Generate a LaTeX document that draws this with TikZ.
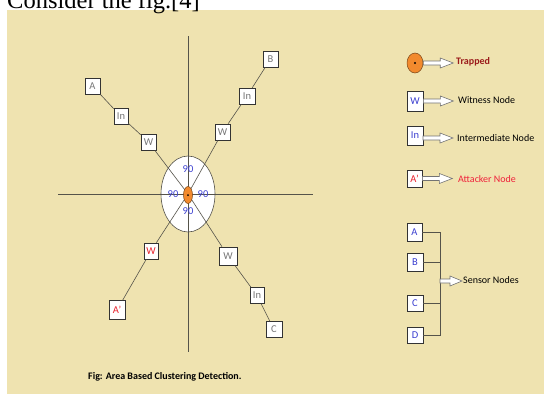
\documentclass[tikz,border=0pt]{standalone}
\usepackage{fontspec}
\setmainfont{Carlito}
\newfontfamily\serifx{Liberation Serif}
\usetikzlibrary{shapes.geometric,shadows}
\definecolor{bg}{HTML}{EFE3B0}
\definecolor{ln}{HTML}{55534A}
\definecolor{txtgray}{HTML}{767676}
\definecolor{nblue}{HTML}{3B3FD0}
\definecolor{nred}{HTML}{E8202A}
\definecolor{orng}{HTML}{F28A2E}
\definecolor{trapred}{HTML}{9B1B1B}
\definecolor{attred}{HTML}{F0203A}
\begin{document}
\begin{tikzpicture}[x=1pt,y=-1pt,
 box/.style={draw=black!80, fill=white, line width=0.7pt, minimum width=15pt, minimum height=16pt,
   inner sep=0pt, font=\fontsize{10.5}{10.5}\selectfont, text=txtgray,
   drop shadow={shadow xshift=0.8pt, shadow yshift=-0.8pt, fill=black!35, opacity=1}},
 lbox/.style={box, text=nblue, minimum width=16pt, minimum height=18pt},
 conn/.style={draw=ln, line width=0.6pt},
 axis/.style={draw=ln, line width=0.9pt},
 ninety/.style={text=nblue, font=\fontsize{10.5}{10.5}\selectfont, inner sep=0pt},
 legtxt/.style={anchor=west, inner sep=0pt, font=\fontsize{10}{12}\selectfont},
 blockarr/.style={draw=black!55, fill=white, line width=0.6pt},
 trapdot/.style={draw=orng!50!black, fill=orng, ellipse, inner sep=0pt, line width=0.5pt}]
\useasboundingbox (0,0) rectangle (544,394);
\clip (0,0) rectangle (544,394);
\fill[bg] (7,10) rectangle (544,394);
\node[anchor=base west, inner sep=0pt, font=\serifx\fontsize{24.5}{26}\selectfont] (top) at (7,8) {Consider the fig.[4]};

% central area
\coordinate (o) at (188,194);
\node[draw=ln, fill=white, ellipse, minimum width=54pt, minimum height=76pt, inner sep=0pt, line width=0.6pt] (area) at (o) {};
\coordinate (axl) at (58,194);
\coordinate (axr) at (313,194);
\coordinate (axt) at (188,36);
\coordinate (axb) at (188,352);
\draw[axis] (axl) -- (axr);
\draw[axis] (axt) -- (axb);

% branches
\node[box] (a1) at (92.5,86) {A};
\node[box, minimum width=14pt] (in1) at (121,116.5) {In};
\node[box] (w1) at (148.5,142) {W};

\node[box] (b1) at (270.5,59) {B};
\node[box, minimum width=16pt] (in2) at (247,96) {In};
\node[box] (w2) at (222.5,132) {W};

\node[box, text=nred, minimum width=14pt] (w3) at (151,251) {W};
\node[box, text=nred, minimum width=16pt, minimum height=19pt] (ap) at (117,310) {A'};

\node[box, minimum width=18pt, minimum height=18pt] (w4) at (228,256) {W};
\node[box, minimum width=14pt] (in4) at (257,295.5) {In};
\node[box, minimum width=16pt] (c1) at (274,329.5) {C};

\draw[conn] (a1) -- (in1) -- (w1) -- (o);
\draw[conn] (b1) -- (in2) -- (w2) -- (o);
\draw[conn] (ap) -- (w3) -- (o);
\draw[conn] (c1) -- (in4) -- (w4) -- (o);

\node[ninety] (n1) at (188,169) {90};
\node[ninety] (n2) at (173,194) {90};
\node[ninety] (n3) at (203,194) {90};
\node[ninety] (n4) at (188,211) {90};

\node[trapdot, minimum width=9pt, minimum height=17pt] (trap) at (188,195) {};
\fill (trap.center) circle (1pt);

% legend
\node[trapdot, minimum width=16pt, minimum height=20pt] (ltrap) at (415,63) {};
\fill (ltrap.center) circle (1.2pt);
\draw[blockarr] (ltrap.east) ++(0,-2) -- ++(17,0) -- ++(0,-3) -- ++(13,5) -- ++(-13,5) -- ++(0,-3) -- ++(-17,0) -- cycle;
\node[legtxt, font=\fontsize{10}{12}\selectfont\bfseries, text=trapred] (ttrap) at (456,62) {Trapped};

\node[lbox, minimum height=20pt] (lw) at (415,101) {W};
\draw[blockarr] (lw.east) ++(0,-2) -- ++(17,0) -- ++(0,-3) -- ++(13,5) -- ++(-13,5) -- ++(0,-3) -- ++(-17,0) -- cycle;
\node[legtxt] (tw) at (458,100) {Witness Node};

\node[lbox, minimum height=19pt] (lin) at (415,135.5) {In};
\coordinate (linr) at (423,138);
\draw[blockarr] (linr) ++(0,-2) -- ++(17,0) -- ++(0,-3) -- ++(13,5) -- ++(-13,5) -- ++(0,-3) -- ++(-17,0) -- cycle;
\node[legtxt] (tin) at (457,138) {Intermediate Node};

\node[lbox, text=nred, minimum width=15pt, minimum height=17pt] (lap) at (414.5,178.5) {A'};
\draw[blockarr] (lap.east) ++(0,-2) -- ++(17,0) -- ++(0,-3) -- ++(13,5) -- ++(-13,5) -- ++(0,-3) -- ++(-17,0) -- cycle;
\node[legtxt, text=attred] (tap) at (458,179) {Attacker Node};

\node[lbox, minimum width=15pt] (la) at (414.5,232) {A};
\node[lbox] (lb) at (415,262) {B};
\node[lbox, minimum height=16pt] (lc) at (415,303) {C};
\node[lbox, minimum height=16pt] (ld) at (415,335) {D};
\coordinate (bx) at (440,0);
\draw[conn, line width=1pt] (la.east) -- (la.east -| bx) -- (ld.east -| bx) -- (ld.east);
\draw[conn, line width=1pt] (lb.east) -- (lb.east -| bx);
\draw[conn, line width=1pt] (lc.east) -- (lc.east -| bx);
\coordinate (br) at (440,281);
\draw[blockarr] (br) ++(0,-2) -- ++(10,0) -- ++(0,-3) -- ++(12,5) -- ++(-12,5) -- ++(0,-3) -- ++(-10,0) -- cycle;
\node[legtxt] (tsens) at (463,280) {Sensor Nodes};

\node[anchor=west, inner sep=0pt, font=\fontsize{10}{12}\selectfont\bfseries] (cap) at (88,377) {Fig: Area Based Clustering Detection.};
\end{tikzpicture}
\end{document}
